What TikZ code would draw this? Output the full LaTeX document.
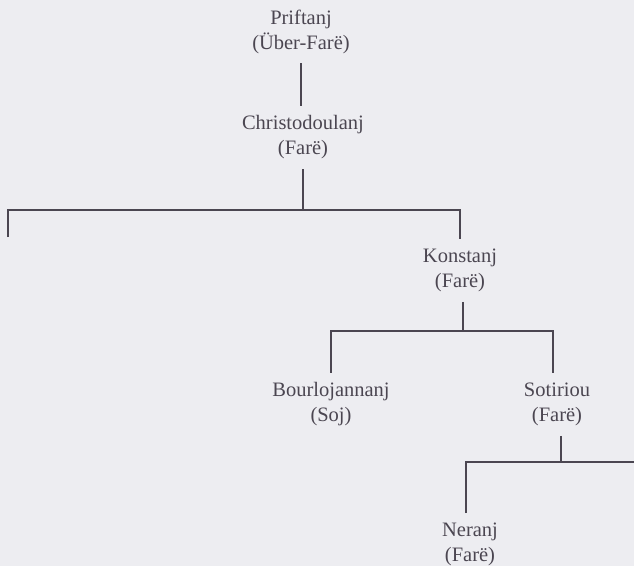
\documentclass[tikz,border=0pt]{standalone}
\usepackage{fontspec}
\setmainfont{Liberation Serif}
\definecolor{paper}{HTML}{EDEDF1}
\definecolor{ink}{HTML}{4B4651}
\begin{document}
\begin{tikzpicture}[x=1pt,y=-1pt,
  famname/.style={align=center, inner sep=0pt, outer ysep=10pt, text=ink,
    font=\fontsize{20.5}{25}\selectfont},
  link/.style={draw=ink, line width=1.3pt}]
  % page
  \fill[paper] (0,0) rectangle (634,566);
  \useasboundingbox (0,0) rectangle (634,566);

  % families
  \node[famname] (p) at (301,31.5) {Priftanj\\(Über-Farë)};
  \node[famname] (c) at (303,137.5) {Christodoulanj\\(Farë)};
  \node[famname] (k) at (460,270.5) {Konstanj\\(Farë)};
  \node[famname] (b) at (331,404.5) {Bourlojannanj\\(Soj)};
  \node[famname] (s) at (557,404.5) {Sotiriou\\(Farë)};
  \node[famname] (n) at (470,544.5) {Neranj\\(Farë)};

  % bar levels and open ends
  \coordinate (bar1) at (0,210);
  \coordinate (bar2) at (0,331);
  \coordinate (bar3) at (0,462);
  \coordinate (openleft) at (8,237);
  \coordinate (openright) at (634,462);

  % connectors
  \draw[link] (p.south) -- (p.south |- c.north);
  \draw[link] (c.south) -- (c.south |- bar1);
  \draw[link] (openleft) |- (k.north |- bar1) -- (k.north);
  \draw[link] ([xshift=3pt]k.south) -- ([xshift=3pt]k.south |- bar2);
  \draw[link] (b.north) |- ([xshift=-4pt]s.north |- bar2) -- ([xshift=-4pt]s.north);
  \draw[link] ([xshift=4pt]s.south) -- ([xshift=4pt]s.south |- bar3);
  \draw[link] ([xshift=-4pt]n.north) |- (openright);
\end{tikzpicture}
\end{document}
